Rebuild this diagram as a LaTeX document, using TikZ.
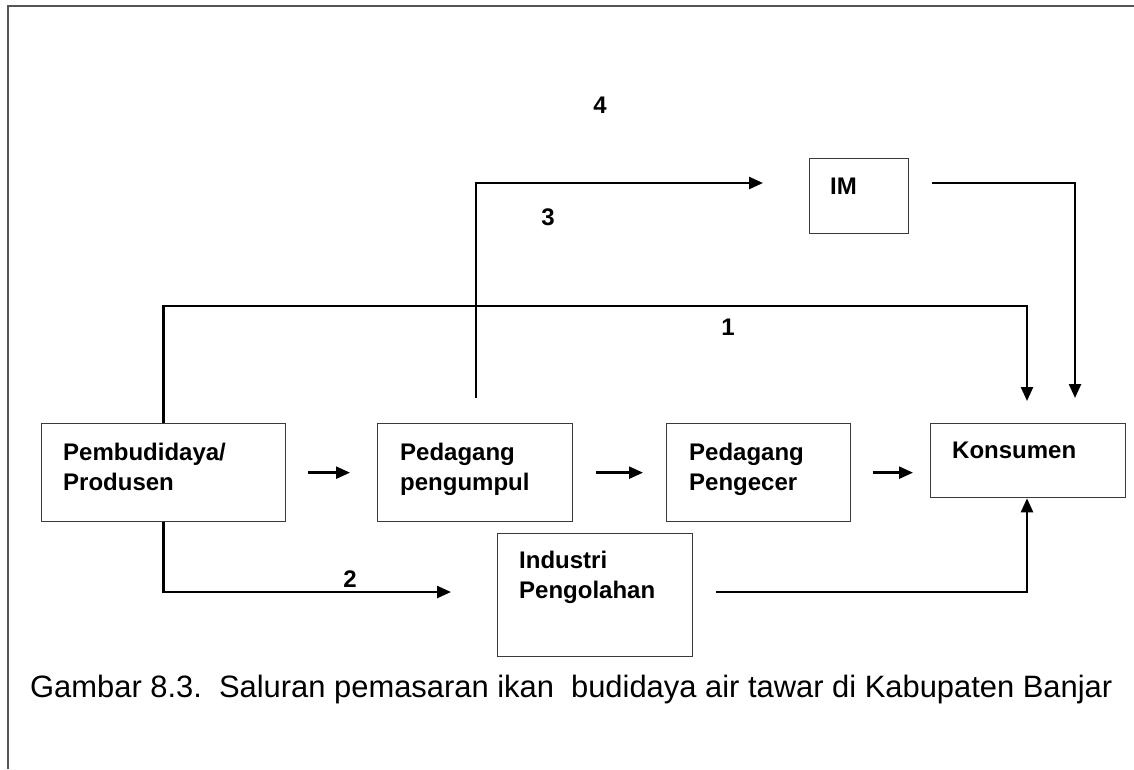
\documentclass[tikz,border=0pt]{standalone}
\usepackage{fontspec}
\setmainfont{Liberation Sans}
\usetikzlibrary{arrows.meta}
\definecolor{framegray}{HTML}{555555}
\definecolor{boxgray}{HTML}{3A3A3A}
\begin{document}
\begin{tikzpicture}[x=1pt,y=-1pt,
  box/.style={draw=boxgray, line width=1.3pt, rectangle, inner sep=0pt, anchor=north west},
  lbl/.style={font=\fontsize{24}{30}\selectfont\bfseries, inner sep=0pt, anchor=base west, align=left},
  num/.style={font=\fontsize{24}{28}\selectfont\bfseries, inner sep=0pt, anchor=base},
  conn/.style={line width=2.4pt, black},
  arr/.style={conn, -{Triangle[length=14pt,width=12pt]}},
]
\useasboundingbox (0,0) rectangle (1134,769);
% outer frame (top and left edges)
\draw[framegray, line width=2pt] (8,769) -- (8,6) -- (1134,6);

% boxes
\node[box, minimum width=244pt, minimum height=98pt] (prod) at (41,423) {};
\node[box, minimum width=195pt, minimum height=98pt] (pengumpul) at (377,423) {};
\node[box, minimum width=184pt, minimum height=98pt] (pengecer) at (666,423) {};
\node[box, minimum width=195pt, minimum height=74pt] (kons) at (930,423) {};
\node[box, minimum width=99pt, minimum height=75pt] (im) at (809,158) {};
\node[box, minimum width=195pt, minimum height=123pt] (industri) at (497,533) {};

% box texts (anchored at the baseline of their last line)
\node[lbl] (tprod) at (63,490) {Pembudidaya/\\Produsen};
\node[lbl] (tpengumpul) at (400,490) {Pedagang\\pengumpul};
\node[lbl] (tpengecer) at (689,490) {Pedagang\\Pengecer};
\node[lbl] (tkons) at (952,458) {Konsumen};
\node[lbl] (tim) at (830,194) {IM};
\node[lbl] (tindustri) at (519,598) {Industri\\Pengolahan};

% channel numbers
\node[num] (n4) at (600,113) {4};
\node[num] (n3) at (548,225) {3};
\node[num] (n1) at (728,335) {1};
\node[num] (n2) at (350,587) {2};

% main chain
\draw[arr, shorten <=22pt, shorten >=27pt] (prod.east) -- (pengumpul.west);
\draw[arr, shorten <=23pt, shorten >=23pt] (pengumpul.east) -- (pengecer.west);
\draw[arr, shorten <=22pt, shorten >=17pt] (pengecer.east) -- (pengecer.east -| kons.west);

% channel 1
\coordinate (c1) at (1027,306);
\draw[arr, shorten >=22pt] (prod.north) |- (c1) -- (c1 |- kons.north);

% channel 3 (to IM)
\coordinate (c3) at (476,183);
\draw[arr, shorten <=25pt, shorten >=46pt] (pengumpul.north -| c3) |- (c3 -| im.west);

% IM to consumer
\coordinate (c4) at (1075,183);
\draw[arr, shorten <=23pt, shorten >=25pt] (c4 -| im.east) -- (c4) -- (c4 |- kons.north);

% channel 2 (processing industry)
\coordinate (c2) at (162,592);
\draw[arr, shorten >=46pt] (prod.south) |- (c2 -| industri.west);

% processing industry to consumer
\draw[arr, shorten <=23pt] (c2 -| industri.east) -| (c1 |- kons.south);

% caption
\node[font=\fontsize{30.9}{34}\selectfont, inner sep=0pt, anchor=base west] (cap) at (30,697)
  {Gambar 8.3.\ \ Saluran pemasaran ikan\ \ budidaya air tawar di Kabupaten Banjar};
\end{tikzpicture}
\end{document}
